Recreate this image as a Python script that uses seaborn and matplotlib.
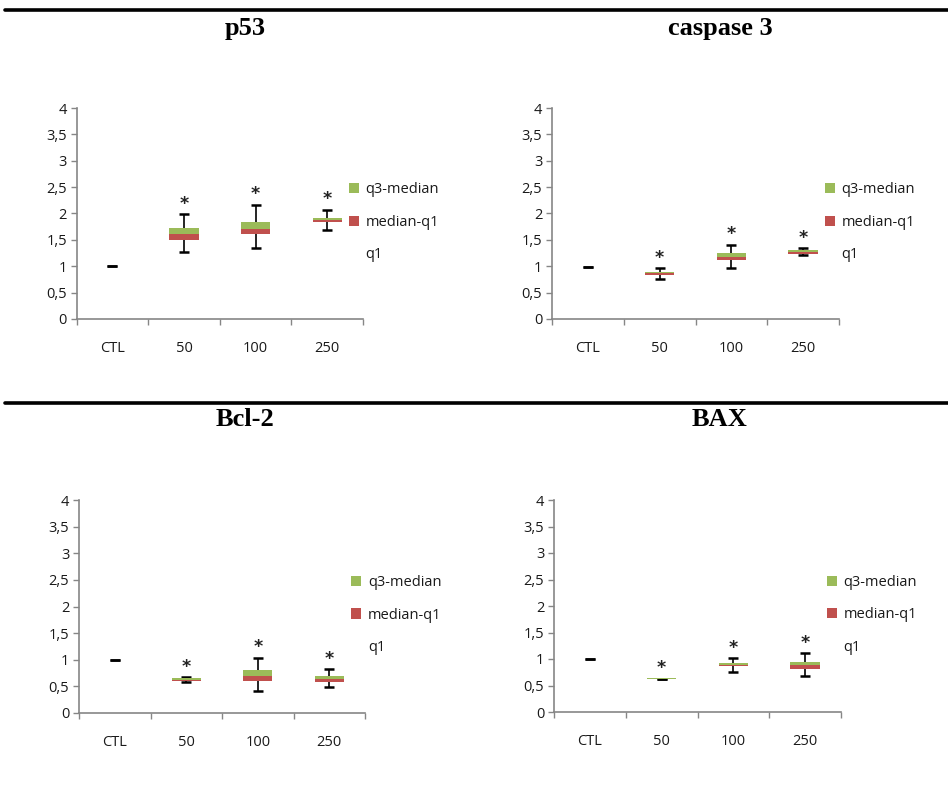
import numpy as np
import pandas as pd
import matplotlib
matplotlib.use("Agg")
import matplotlib.pyplot as plt
import seaborn as sns
from matplotlib.patches import Patch
from matplotlib.lines import Line2D

# ---------------- data ----------------
categories = ["CTL", "50", "100", "250"]
panel_titles = ["p53", "caspase 3", "Bcl-2", "BAX"]

p53_low = [1.00, 1.27, 1.35, 1.68]
p53_q1 = [1.00, 1.50, 1.61, 1.83]
p53_med = [1.00, 1.61, 1.71, 1.87]
p53_q3 = [1.00, 1.73, 1.84, 1.92]
p53_high = [1.00, 1.99, 2.17, 2.07]

casp3_low = [0.98, 0.75, 0.96, 1.21]
casp3_q1 = [0.98, 0.835, 1.11, 1.24]
casp3_med = [0.98, 0.87, 1.17, 1.27]
casp3_q3 = [0.98, 0.90, 1.26, 1.30]
casp3_high = [0.98, 0.96, 1.41, 1.34]

bcl2_low = [1.00, 0.59, 0.41, 0.48]
bcl2_q1 = [1.00, 0.61, 0.61, 0.59]
bcl2_med = [1.00, 0.615, 0.69, 0.63]
bcl2_q3 = [1.00, 0.65, 0.80, 0.69]
bcl2_high = [1.00, 0.67, 1.04, 0.82]

bax_low = [1.00, 0.62, 0.75, 0.68]
bax_q1 = [1.00, 0.615, 0.87, 0.82]
bax_med = [1.00, 0.625, 0.89, 0.89]
bax_q3 = [1.00, 0.645, 0.92, 0.94]
bax_high = [1.00, 0.63, 1.01, 1.11]

stars = ["", "*", "*", "*"]
y_ticks = [0, 0.5, 1, 1.5, 2, 2.5, 3, 3.5, 4]
y_tick_labels = ["0", "0,5", "1", "1,5", "2", "2,5", "3", "3,5", "4"]
legend_labels = ["q3-median", "median-q1", "q1"]

panel_data = [
    (p53_low, p53_q1, p53_med, p53_q3, p53_high),
    (casp3_low, casp3_q1, casp3_med, casp3_q3, casp3_high),
    (bcl2_low, bcl2_q1, bcl2_med, bcl2_q3, bcl2_high),
    (bax_low, bax_q1, bax_med, bax_q3, bax_high),
]

# ---------------- style ----------------
sns.set_theme(style="white")
plt.rcParams["font.family"] = ["Open Sans", "DejaVu Sans"]
GREEN = "#9BBB59"
RED = "#C0504D"
AXIS_GREY = "#868686"
TEXT = "#1a1a1a"
FS = 10.5

W, H = 948, 790
fig = plt.figure(figsize=(W / 100, H / 100), dpi=100)
fig.patch.set_facecolor("white")

# axes rectangles in pixels: (left, right, top(value 4), bottom(value 0))
rects = [
    (76.7, 363, 108, 319),
    (552, 839, 108, 319),
    (79, 365, 500, 713),
    (554, 841, 500, 712),
]
title_pos = [(245, 28), (720, 28), (245, 420), (720, 420)]

for idx, (rect, data) in enumerate(zip(rects, panel_data)):
    l, r, t, b = rect
    ax = fig.add_axes([l / W, 1 - b / H, (r - l) / W, (b - t) / H])
    low, q1, med, q3, high = [np.asarray(v, dtype=float) for v in data]
    df = pd.DataFrame({
        "cat": categories,
        "q1": q1,
        "lower": med - q1,
        "upper": q3 - med,
        "med": med,
    })

    # whiskers (drawn behind the boxes)
    ax.errorbar(np.arange(len(categories)), med,
                yerr=[np.clip(med - low, 0, None), np.clip(high - med, 0, None)],
                fmt="none", ecolor="black", elinewidth=1.2, capsize=3.3,
                capthick=1.8, zorder=1)

    sns.barplot(data=df, x="cat", y="lower", bottom=df["q1"].to_numpy(),
                order=categories, color=RED, saturation=1, width=0.41,
                errorbar=None, linewidth=0, zorder=3, ax=ax)
    sns.barplot(data=df, x="cat", y="upper", bottom=df["med"].to_numpy(),
                order=categories, color=GREEN, saturation=1, width=0.41,
                errorbar=None, linewidth=0, zorder=3, ax=ax)

    for i, s in enumerate(stars):
        if s:
            ax.annotate(s, (i, high[i]), xytext=(0, 7.5), textcoords="offset points",
                        ha="center", va="center", fontsize=12.5, fontweight="bold",
                        color="#222222", fontfamily="DejaVu Sans")

    ax.set_ylim(0, 4)
    ax.set_xlim(-0.5, len(categories) - 0.5)
    ax.set_xlabel("")
    ax.set_ylabel("")
    ax.set_yticks(y_ticks)
    ax.set_yticklabels(y_tick_labels)
    ax.set_xticks(np.arange(-0.5, len(categories)), labels=[""] * (len(categories) + 1))
    ax.set_xticks(np.arange(len(categories)), labels=categories, minor=True)
    ax.tick_params(axis="x", which="major", direction="out", length=4, width=1,
                   color=AXIS_GREY, bottom=True)
    ax.tick_params(axis="x", which="minor", length=0, pad=16, labelsize=FS,
                   labelcolor=TEXT, bottom=True)
    ax.tick_params(axis="y", direction="out", length=4, width=1, color=AXIS_GREY,
                   labelsize=FS, labelcolor=TEXT, pad=3, left=True)
    for side in ["top", "right"]:
        ax.spines[side].set_visible(False)
    for side in ["left", "bottom"]:
        ax.spines[side].set_color(AXIS_GREY)
        ax.spines[side].set_linewidth(1.2)
    ax.set_facecolor("none")
    ax.grid(False)

    handles = [Patch(facecolor=GREEN, edgecolor="none"),
               Patch(facecolor=RED, edgecolor="none"),
               Patch(facecolor="none", edgecolor="none")]
    leg = ax.legend(handles, legend_labels, loc="upper left",
                    bbox_to_anchor=(0.951, 0.647),
                    frameon=False, fontsize=FS, handlelength=0.7, handleheight=0.7,
                    handletextpad=0.45, labelspacing=1.2, borderpad=0, borderaxespad=0)
    for txt in leg.get_texts():
        txt.set_color(TEXT)

    tx, ty = title_pos[idx]
    fig.text(tx / W, 1 - ty / H, panel_titles[idx], ha="center", va="center",
             fontsize=19, fontweight="bold", fontfamily="Liberation Serif", color="black")

# horizontal separator rules
for yy in (10, 403):
    fig.add_artist(Line2D([5 / W, 1], [1 - yy / H, 1 - yy / H], color="black", lw=2.6))

fig.savefig("out.png", dpi=100)
